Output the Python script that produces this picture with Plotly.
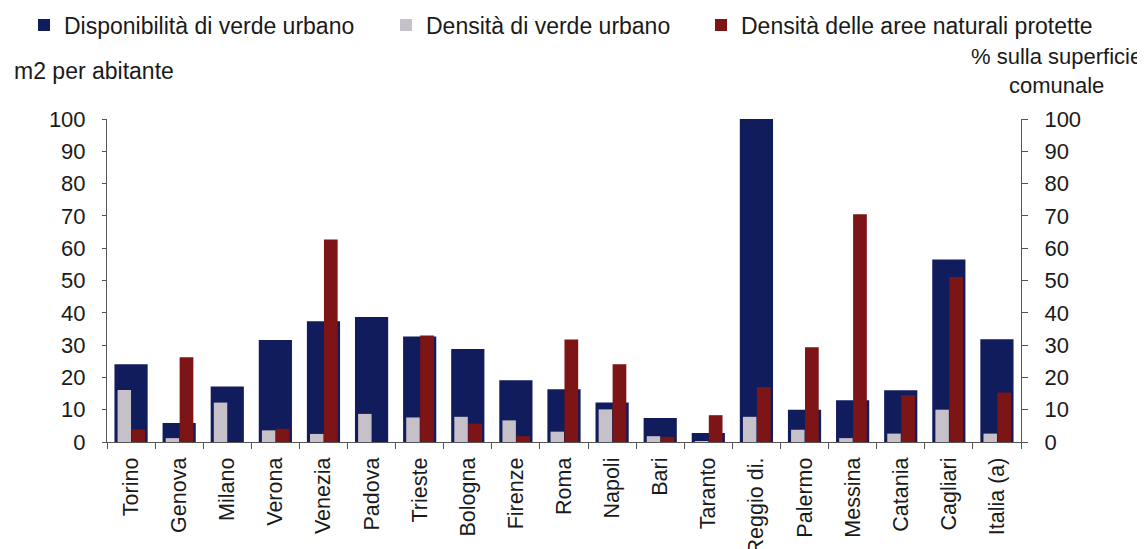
import plotly.graph_objects as go

categories = ["Torino", "Genova", "Milano", "Verona", "Venezia", "Padova", "Trieste",
              "Bologna", "Firenze", "Roma", "Napoli", "Bari", "Taranto", "Reggio di.",
              "Palermo", "Messina", "Catania", "Cagliari", "Italia (a)"]
disponibilita = [24.1, 5.9, 17.2, 31.6, 37.4, 38.7, 32.7, 28.8, 19.1, 16.3, 12.2, 7.4,
                 2.8, 100, 10.0, 12.9, 16.0, 56.5, 31.8]
densita_verde = [16.1, 1.2, 12.2, 3.6, 2.5, 8.7, 7.6, 7.8, 6.7, 3.2, 10.1, 1.8,
                 0.3, 7.8, 3.8, 1.2, 2.6, 10.0, 2.6]
densita_protette = [3.9, 26.2, 0, 4.1, 62.7, 0, 33.0, 5.7, 1.8, 31.7, 24.1, 1.6,
                    8.3, 17.0, 29.3, 70.5, 14.5, 51.1, 15.3]
y_ticks = list(range(0, 101, 10))

NAVY = "#111c5c"
GRAY = "#c6c1c9"
RED = "#7d1416"
TXT = "#1a1a1a"
AX = "#555555"
FONT = "Arial, Liberation Sans, sans-serif"

# the page body adds an 8px offset; the figure is sized so it ends at the window edge
W, H = 1137, 541

fig = go.Figure()
fig.add_trace(go.Bar(x=categories, y=disponibilita, name="Disponibilità di verde urbano",
                     marker=dict(color=NAVY, line=dict(width=0)), width=0.69, offset=-0.345,
                     legend="legend", showlegend=True))
fig.add_trace(go.Bar(x=categories, y=densita_verde, name="Densità di verde urbano",
                     marker=dict(color=GRAY, line=dict(width=0)), width=0.28, offset=-0.28,
                     yaxis="y2", legend="legend2", showlegend=True))
fig.add_trace(go.Bar(x=categories, y=densita_protette, name="Densità delle aree naturali protette",
                     marker=dict(color=RED, line=dict(width=0)), width=0.285, offset=0.01,
                     yaxis="y2", legend="legend3", showlegend=True))

LEG_Y = 1 - 17 / H
legend_common = dict(orientation="h", xref="container", yref="container", yanchor="middle",
                     xanchor="left", font=dict(family=FONT, size=23, color=TXT),
                     bgcolor="rgba(0,0,0,0)", itemwidth=30)

fig.update_layout(
    width=W, height=H,
    margin=dict(l=99, r=124, t=111, b=107, autoexpand=False),
    paper_bgcolor="white", plot_bgcolor="white",
    barmode="overlay",
    showlegend=True,
    font=dict(family=FONT, size=22, color=TXT),
    legend=dict(x=16 / W, y=LEG_Y, **legend_common),
    legend2=dict(x=378 / W, y=LEG_Y, **legend_common),
    legend3=dict(x=693 / W, y=LEG_Y, **legend_common),
    xaxis=dict(type="category", categoryarray=categories, range=[-0.5, 18.5],
               tickangle=-90, tickson="boundaries", ticks="outside", ticklen=6,
               tickcolor=AX, showline=True, linecolor=AX, linewidth=1, showgrid=False,
               tickfont=dict(family=FONT, size=21.5, color=TXT), ticklabelstandoff=6,
               automargin=False),
    xaxis2=dict(overlaying="x", anchor="y", range=[-0.5, 18.5], tickmode="array",
                tickvals=[i + 0.5 for i in range(len(categories) - 1)], ticks="inside",
                ticklen=4, tickcolor=AX, showticklabels=False, showline=False,
                showgrid=False, zeroline=False, side="bottom", automargin=False),
    yaxis=dict(range=[0, 100], tickvals=y_ticks, ticks="outside", ticklen=4, tickcolor=AX,
               showline=True, linecolor=AX, linewidth=1, showgrid=False, zeroline=False,
               tickfont=dict(family=FONT, size=22, color=TXT), ticklabelstandoff=12,
               automargin=False),
    yaxis2=dict(range=[0, 100], tickvals=y_ticks, overlaying="y", side="right",
                ticks="outside", ticklen=6, tickcolor=AX, showline=True, linecolor=AX,
                linewidth=1, showgrid=False, zeroline=False,
                tickfont=dict(family=FONT, size=22, color=TXT), ticklabelstandoff=12,
                automargin=False),
    yaxis3=dict(range=[0, 100], tickvals=y_ticks, overlaying="y", side="left", anchor="x",
                ticks="inside", ticklen=6, tickcolor=AX, showticklabels=False,
                showline=False, showgrid=False, zeroline=False, automargin=False),
    yaxis4=dict(range=[0, 100], tickvals=y_ticks, overlaying="y", side="right", anchor="x",
                ticks="inside", ticklen=4, tickcolor=AX, showticklabels=False,
                showline=False, showgrid=False, zeroline=False, automargin=False),
    annotations=[
        dict(text="m2 per abitante", xref="paper", yref="paper", x=(12 - 107) / 914,
             y=(442 - 71) / 323, xanchor="left", yanchor="middle", showarrow=False,
             font=dict(family=FONT, size=23, color=TXT)),
        dict(text="% sulla superficie<br>comunale", xref="paper", yref="paper",
             x=(1056 - 107) / 914, y=(442 - 71) / 323, xanchor="center", yanchor="middle",
             align="center", showarrow=False,
             font=dict(family=FONT, size=22, color=TXT)),
    ],
)

fig.write_html("out.html")
